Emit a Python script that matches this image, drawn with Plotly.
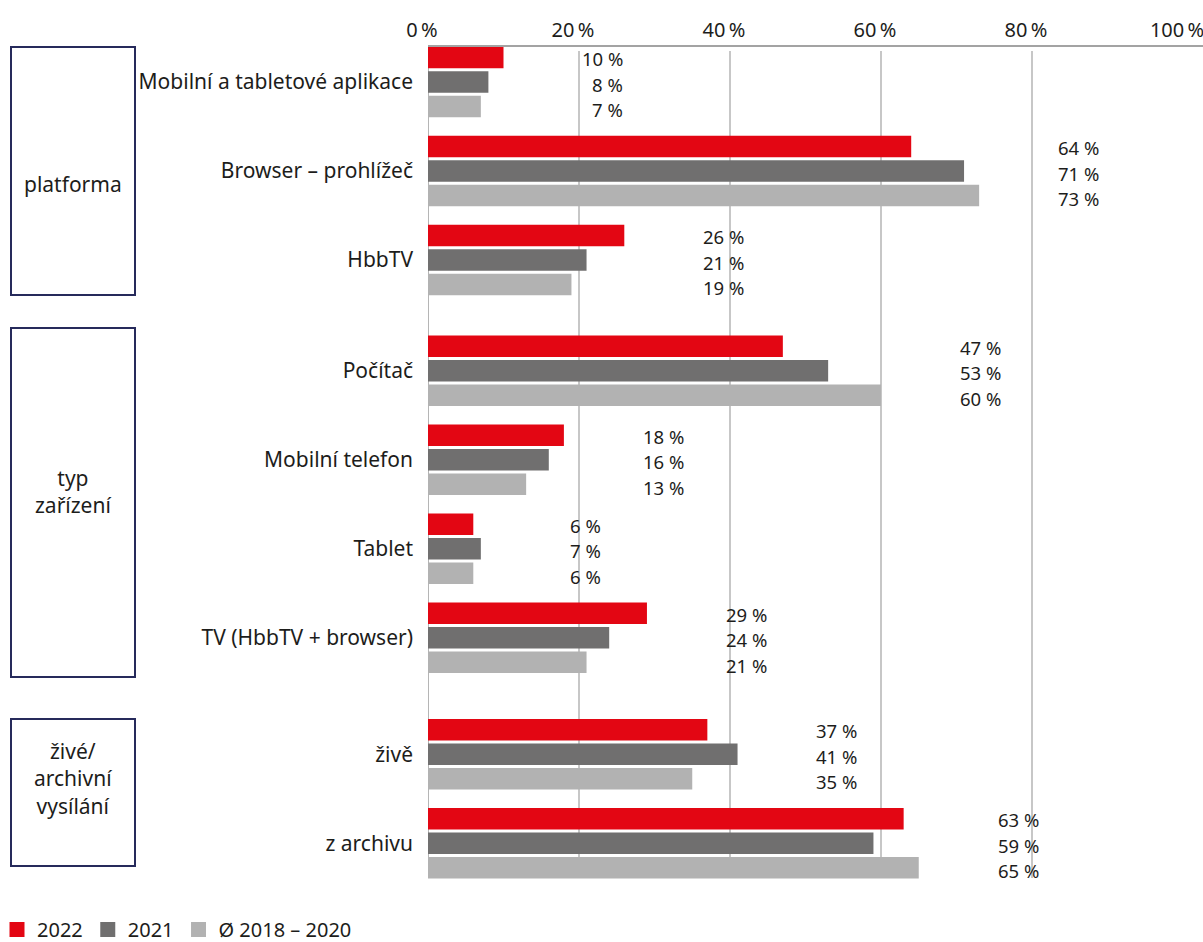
import plotly.graph_objects as go

# ---------------- data ----------------
series_names = ["2022", "2021", "Ø 2018 – 2020"]
series_colors = ["#E30613", "#706F6F", "#B2B2B2"]

group_titles = ["platforma", "typ<br>zařízení", "živé/<br>archivní<br>vysílání"]

cats_platforma = ["Mobilní a tabletové aplikace", "Browser – prohlížeč", "HbbTV"]
v2022_platforma = [10, 64, 26]
v2021_platforma = [8, 71, 21]
vavg_platforma = [7, 73, 19]

cats_zarizeni = ["Počítač", "Mobilní telefon", "Tablet", "TV (HbbTV + browser)"]
v2022_zarizeni = [47, 18, 6, 29]
v2021_zarizeni = [53, 16, 7, 24]
vavg_zarizeni = [60, 13, 6, 21]

cats_vysilani = ["živě", "z archivu"]
v2022_vysilani = [37, 63]
v2021_vysilani = [41, 59]
vavg_vysilani = [35, 65]

x_ticks = [0, 20, 40, 60, 80, 100]
x_tick_labels = [f"{t}\u202f%" for t in x_ticks]

groups = [
    (cats_platforma, [v2022_platforma, v2021_platforma, vavg_platforma]),
    (cats_zarizeni, [v2022_zarizeni, v2021_zarizeni, vavg_zarizeni]),
    (cats_vysilani, [v2022_vysilani, v2021_vysilani, vavg_vysilani]),
]

# ---------------- layout helpers (pixels -> paper) ----------------
W, H = 1203, 942
ML, MR, MT, MB = 428, 0, 20, 40
PW = W - ML - MR
PH = H - MT - MB


def px(x):
    return (x - ML) / PW


def py(y):
    return (H - MB - y) / PH


FONT = "Noto Sans"
TXT = "#1d1d1b"
FS = 20
FS_VAL = 18.5
FS_CAT = 21

# y domains (pixel top, bottom) for each group, pitch ~89 px per category
pitch = 89
centers = [171, 504.25, 798.75]
domains = []
for (cats, _), c in zip(groups, centers):
    n = len(cats)
    top = c - n * pitch / 2
    bot = c + n * pitch / 2
    domains.append([py(bot), py(top)])

fig = go.Figure()
ynames = ["y", "y2", "y3"]
annotations = []
for gi, (cats, vals) in enumerate(groups):
    for si, (name, color) in enumerate(zip(series_names, series_colors)):
        fig.add_trace(go.Bar(
            x=vals[si], y=cats, orientation="h", name=name,
            marker=dict(color=color, line=dict(width=0)),
            xaxis="x", yaxis=ynames[gi],
            showlegend=False, legendgroup=name,
            hoverinfo="x+y",
        ))
    for ci, cat in enumerate(cats):
        mx = max(v[ci] for v in vals)
        for si in range(3):
            annotations.append(dict(
                x=mx + 16, y=cat, xref="x", yref=ynames[gi],
                text=f"{vals[si][ci]} %", showarrow=False,
                xanchor="right", yanchor="middle",
                yshift=(1 - si) * 25.5 - 2, borderpad=0,
                font=dict(family=FONT, size=FS_VAL, color=TXT),
            ))

# legend entries (square swatches)
for name, color in zip(series_names, series_colors):
    fig.add_trace(go.Scatter(
        x=[None], y=[None], mode="markers", name=name, legendgroup=name,
        marker=dict(symbol="square", size=15, color=color),
        xaxis="x", yaxis="y", showlegend=True,
    ))

# group boxes
box_pix = [(47, 295), (328, 677), (719, 866)]
title_y = [184, 491, 778]
shapes = []
for (t, b), title, ty in zip(box_pix, group_titles, title_y):
    shapes.append(dict(type="rect", xref="paper", yref="paper",
                       x0=px(11), x1=px(135), y0=py(b), y1=py(t),
                       line=dict(color="#262a5b", width=2)))
    annotations.append(dict(x=px(73), y=py(ty), xref="paper", yref="paper",
                            text=title, showarrow=False, align="center",
                            xanchor="center", yanchor="middle",
                            font=dict(family=FONT, size=FS_CAT, color=TXT)))

# gridlines and zero line
for v in x_ticks[1:-1]:
    shapes.append(dict(type="line", xref="x", yref="paper", x0=v, x1=v,
                       y0=py(878), y1=py(51), layer="below",
                       line=dict(color="#8f8f8f", width=1)))
shapes.append(dict(type="line", xref="x", yref="paper", x0=0, x1=0,
                   y0=py(878), y1=py(46), layer="below",
                   line=dict(color="#9d9d9d", width=1.5)))

layout = dict(
    width=W, height=H,
    margin=dict(l=ML, r=MR, t=MT, b=MB, autoexpand=False),
    paper_bgcolor="white", plot_bgcolor="white",
    barmode="group", bargap=0.174, bargroupgap=0.115,
    font=dict(family=FONT, size=FS, color=TXT),
    xaxis=dict(range=[0, PW / 7.55], anchor="free", position=py(46), side="top",
               showline=True, linecolor="#a3a3a3", linewidth=1.5,
               showgrid=False, zeroline=False, ticks="",
               tickvals=x_ticks, ticktext=x_tick_labels,
               tickfont=dict(family=FONT, size=20, color=TXT),
               ticklabelshift=-6, ticklabeloverflow="allow", automargin=False),
    legend=dict(orientation="h", x=px(-3), y=py(949), xanchor="left", yanchor="bottom",
                font=dict(family=FONT, size=FS, color=TXT), itemwidth=30,
                traceorder="normal"),
    shapes=shapes, annotations=annotations,
)
for gi, yn in enumerate(ynames):
    key = "yaxis" if yn == "y" else "yaxis" + yn[1:]
    layout[key] = dict(domain=domains[gi], anchor="x", type="category",
                       autorange="reversed", showline=False, showgrid=False,
                       zeroline=False, ticks="", ticklabelstandoff=14,
                       tickfont=dict(family=FONT, size=FS_CAT, color=TXT),
                       automargin=False)

fig.update_layout(**layout)
fig.write_html("out.html", config={"displayModeBar": False},
               post_script="document.body.style.margin='0';document.body.style.overflow='hidden';")
